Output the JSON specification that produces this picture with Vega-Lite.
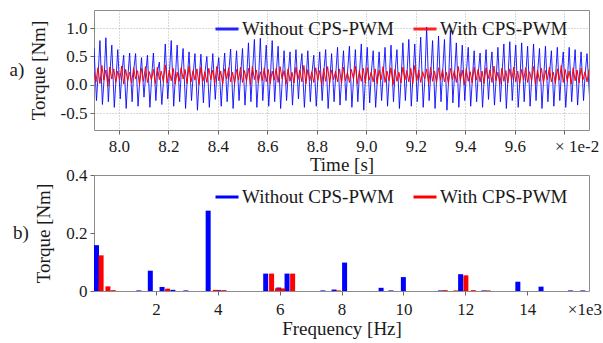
{
"$schema":"https://vega.github.io/schema/vega-lite/v6.json",
"padding":{"left":9,"top":9,"right":0,"bottom":0},
"spacing":45,
"bounds":"flush",
"resolve":{"legend":{"color":"independent"}},
"config":{
"font":"Liberation Serif",
"view":{"stroke":"#8c8c8c","strokeWidth":1},
"axis":{"labelFont":"Liberation Serif","titleFont":"Liberation Serif","labelFontSize":17,"titleFontSize":19,"titleFontWeight":"normal","labelColor":"#1a1a1a","titleColor":"#1a1a1a","domain":false,"tickColor":"#666","tickSize":4,"labelPadding":3,"labelOverlap":false,"labelBound":false,"gridColor":"#b0b0b0","gridDash":[1,2],"gridWidth":1},
"legend":{"orient":"none","direction":"horizontal","labelFont":"Liberation Serif","labelFontSize":19,"labelColor":"#1a1a1a","symbolType":"stroke","symbolStrokeWidth":3,"symbolSize":529,"columnPadding":13,"labelOffset":2,"padding":0,"title":null},
"title":{"font":"Liberation Serif","fontWeight":"normal","fontSize":19,"color":"#1a1a1a"}
},
"datasets":{
"blue":[
{"t":7.900,"v":0.65},{"t":7.910,"v":-0.28},{"t":7.917,"v":0.20},
{"t":7.924,"v":0.78},{"t":7.934,"v":-0.35},{"t":7.941,"v":0.12},
{"t":7.948,"v":0.83},{"t":7.958,"v":-0.30},{"t":7.965,"v":0.25},
{"t":7.972,"v":0.70},{"t":7.982,"v":-0.40},{"t":7.989,"v":0.10},
{"t":7.996,"v":0.62},{"t":8.006,"v":-0.25},{"t":8.013,"v":0.22},
{"t":8.020,"v":0.52},{"t":8.030,"v":-0.42},{"t":8.037,"v":0.15},
{"t":8.044,"v":0.56},{"t":8.054,"v":-0.30},{"t":8.061,"v":0.28},
{"t":8.068,"v":0.55},{"t":8.078,"v":-0.38},{"t":8.085,"v":0.10},
{"t":8.092,"v":0.48},{"t":8.102,"v":-0.22},{"t":8.109,"v":0.20},
{"t":8.116,"v":0.52},{"t":8.126,"v":-0.40},{"t":8.133,"v":0.14},
{"t":8.140,"v":0.56},{"t":8.150,"v":-0.28},{"t":8.157,"v":0.25},
{"t":8.164,"v":0.40},{"t":8.174,"v":-0.35},{"t":8.181,"v":0.08},
{"t":8.188,"v":0.72},{"t":8.198,"v":-0.25},{"t":8.205,"v":0.22},
{"t":8.212,"v":0.78},{"t":8.222,"v":-0.38},{"t":8.229,"v":0.15},
{"t":8.236,"v":0.70},{"t":8.246,"v":-0.30},{"t":8.253,"v":0.26},
{"t":8.260,"v":0.64},{"t":8.270,"v":-0.42},{"t":8.277,"v":0.12},
{"t":8.284,"v":0.58},{"t":8.294,"v":-0.28},{"t":8.301,"v":0.20},
{"t":8.308,"v":0.55},{"t":8.318,"v":-0.45},{"t":8.325,"v":0.10},
{"t":8.332,"v":0.54},{"t":8.342,"v":-0.32},{"t":8.349,"v":0.24},
{"t":8.356,"v":0.50},{"t":8.366,"v":-0.40},{"t":8.373,"v":0.12},
{"t":8.380,"v":0.55},{"t":8.390,"v":-0.26},{"t":8.397,"v":0.22},
{"t":8.404,"v":0.48},{"t":8.414,"v":-0.38},{"t":8.421,"v":0.15},
{"t":8.428,"v":0.56},{"t":8.438,"v":-0.30},{"t":8.445,"v":0.25},
{"t":8.452,"v":0.63},{"t":8.462,"v":-0.42},{"t":8.469,"v":0.10},
{"t":8.476,"v":0.60},{"t":8.486,"v":-0.28},{"t":8.493,"v":0.20},
{"t":8.500,"v":0.64},{"t":8.510,"v":-0.36},{"t":8.517,"v":0.14},
{"t":8.524,"v":0.74},{"t":8.534,"v":-0.30},{"t":8.541,"v":0.26},
{"t":8.548,"v":0.80},{"t":8.558,"v":-0.40},{"t":8.565,"v":0.12},
{"t":8.572,"v":0.82},{"t":8.582,"v":-0.28},{"t":8.589,"v":0.22},
{"t":8.596,"v":0.70},{"t":8.606,"v":-0.38},{"t":8.613,"v":0.15},
{"t":8.620,"v":0.78},{"t":8.630,"v":-0.30},{"t":8.637,"v":0.24},
{"t":8.644,"v":0.68},{"t":8.654,"v":-0.42},{"t":8.661,"v":0.10},
{"t":8.668,"v":0.60},{"t":8.678,"v":-0.28},{"t":8.685,"v":0.20},
{"t":8.692,"v":0.58},{"t":8.702,"v":-0.36},{"t":8.709,"v":0.14},
{"t":8.716,"v":0.62},{"t":8.726,"v":-0.25},{"t":8.733,"v":0.25},
{"t":8.740,"v":0.55},{"t":8.750,"v":-0.40},{"t":8.757,"v":0.12},
{"t":8.764,"v":0.60},{"t":8.774,"v":-0.30},{"t":8.781,"v":0.22},
{"t":8.788,"v":0.52},{"t":8.798,"v":-0.38},{"t":8.805,"v":0.15},
{"t":8.812,"v":0.58},{"t":8.822,"v":-0.28},{"t":8.829,"v":0.25},
{"t":8.836,"v":0.62},{"t":8.846,"v":-0.42},{"t":8.853,"v":0.10},
{"t":8.860,"v":0.55},{"t":8.870,"v":-0.30},{"t":8.877,"v":0.20},
{"t":8.884,"v":0.66},{"t":8.894,"v":-0.36},{"t":8.901,"v":0.14},
{"t":8.908,"v":0.60},{"t":8.918,"v":-0.28},{"t":8.925,"v":0.26},
{"t":8.932,"v":0.68},{"t":8.942,"v":-0.40},{"t":8.949,"v":0.12},
{"t":8.956,"v":0.62},{"t":8.966,"v":-0.30},{"t":8.973,"v":0.22},
{"t":8.980,"v":0.72},{"t":8.990,"v":-0.45},{"t":8.997,"v":0.15},
{"t":9.004,"v":0.66},{"t":9.014,"v":-0.32},{"t":9.021,"v":0.24},
{"t":9.028,"v":0.60},{"t":9.038,"v":-0.40},{"t":9.045,"v":0.10},
{"t":9.052,"v":0.58},{"t":9.062,"v":-0.28},{"t":9.069,"v":0.20},
{"t":9.076,"v":0.66},{"t":9.086,"v":-0.38},{"t":9.093,"v":0.14},
{"t":9.100,"v":0.70},{"t":9.110,"v":-0.30},{"t":9.117,"v":0.25},
{"t":9.124,"v":0.62},{"t":9.134,"v":-0.42},{"t":9.141,"v":0.12},
{"t":9.148,"v":0.74},{"t":9.158,"v":-0.28},{"t":9.165,"v":0.22},
{"t":9.172,"v":0.80},{"t":9.182,"v":-0.38},{"t":9.189,"v":0.15},
{"t":9.196,"v":0.72},{"t":9.206,"v":-0.30},{"t":9.213,"v":0.26},
{"t":9.220,"v":0.84},{"t":9.230,"v":-0.40},{"t":9.237,"v":0.12},
{"t":9.244,"v":1.02},{"t":9.254,"v":-0.28},{"t":9.261,"v":0.22},
{"t":9.268,"v":0.78},{"t":9.278,"v":-0.42},{"t":9.285,"v":0.15},
{"t":9.292,"v":0.86},{"t":9.302,"v":-0.30},{"t":9.309,"v":0.24},
{"t":9.316,"v":0.80},{"t":9.326,"v":-0.45},{"t":9.333,"v":0.10},
{"t":9.340,"v":0.96},{"t":9.350,"v":-0.32},{"t":9.357,"v":0.20},
{"t":9.364,"v":0.74},{"t":9.374,"v":-0.40},{"t":9.381,"v":0.14},
{"t":9.388,"v":0.70},{"t":9.398,"v":-0.28},{"t":9.405,"v":0.25},
{"t":9.412,"v":0.66},{"t":9.422,"v":-0.38},{"t":9.429,"v":0.12},
{"t":9.436,"v":0.60},{"t":9.446,"v":-0.30},{"t":9.453,"v":0.22},
{"t":9.460,"v":0.56},{"t":9.470,"v":-0.40},{"t":9.477,"v":0.15},
{"t":9.484,"v":0.62},{"t":9.494,"v":-0.26},{"t":9.501,"v":0.26},
{"t":9.508,"v":0.58},{"t":9.518,"v":-0.36},{"t":9.525,"v":0.12},
{"t":9.532,"v":0.66},{"t":9.542,"v":-0.30},{"t":9.549,"v":0.22},
{"t":9.556,"v":0.72},{"t":9.566,"v":-0.42},{"t":9.573,"v":0.15},
{"t":9.580,"v":0.76},{"t":9.590,"v":-0.28},{"t":9.597,"v":0.24},
{"t":9.604,"v":0.70},{"t":9.614,"v":-0.40},{"t":9.621,"v":0.10},
{"t":9.628,"v":0.74},{"t":9.638,"v":-0.30},{"t":9.645,"v":0.20},
{"t":9.652,"v":0.68},{"t":9.662,"v":-0.38},{"t":9.669,"v":0.14},
{"t":9.676,"v":0.72},{"t":9.686,"v":-0.28},{"t":9.693,"v":0.25},
{"t":9.700,"v":0.64},{"t":9.710,"v":-0.42},{"t":9.717,"v":0.12},
{"t":9.724,"v":0.68},{"t":9.734,"v":-0.30},{"t":9.741,"v":0.22},
{"t":9.748,"v":0.60},{"t":9.758,"v":-0.38},{"t":9.765,"v":0.15},
{"t":9.772,"v":0.66},{"t":9.782,"v":-0.28},{"t":9.789,"v":0.24},
{"t":9.796,"v":0.58},{"t":9.806,"v":-0.40},{"t":9.813,"v":0.10},
{"t":9.820,"v":0.66},{"t":9.830,"v":-0.30},{"t":9.837,"v":0.20},
{"t":9.844,"v":0.62},{"t":9.854,"v":-0.36},{"t":9.861,"v":0.14},
{"t":9.868,"v":0.58},{"t":9.878,"v":-0.28},{"t":9.885,"v":0.22},
{"t":9.892,"v":0.55},{"t":9.902,"v":-0.20}
],
"red":[
{"t":7.900,"v":0.22},{"t":7.908,"v":0.05},{"t":7.916,"v":0.30},{"t":7.924,"v":0.02},{"t":7.932,"v":0.34},{"t":7.940,"v":0.08},{"t":7.948,"v":0.26},{"t":7.956,"v":-0.03},{"t":7.964,"v":0.31},{"t":7.972,"v":0.10},
{"t":7.980,"v":0.28},{"t":7.988,"v":0.04},{"t":7.996,"v":0.24},{"t":8.004,"v":0.09},{"t":8.012,"v":0.33},{"t":8.020,"v":0.01},{"t":8.028,"v":0.27},{"t":8.036,"v":0.07},{"t":8.044,"v":0.22},{"t":8.052,"v":0.03},
{"t":8.060,"v":0.30},{"t":8.068,"v":0.10},{"t":8.076,"v":0.25},{"t":8.084,"v":0.00},{"t":8.092,"v":0.29},{"t":8.100,"v":0.06},{"t":8.108,"v":0.32},{"t":8.116,"v":0.04},{"t":8.124,"v":0.23},{"t":8.132,"v":0.08},
{"t":8.140,"v":0.27},{"t":8.148,"v":0.02},{"t":8.156,"v":0.31},{"t":8.164,"v":0.09},{"t":8.172,"v":0.24},{"t":8.180,"v":0.05},{"t":8.188,"v":0.35},{"t":8.196,"v":0.03},{"t":8.204,"v":0.26},{"t":8.212,"v":0.07},
{"t":8.220,"v":0.29},{"t":8.228,"v":0.01},{"t":8.236,"v":0.22},{"t":8.244,"v":0.06},{"t":8.252,"v":0.30},{"t":8.260,"v":0.10},{"t":8.268,"v":0.27},{"t":8.276,"v":0.02},{"t":8.284,"v":0.33},{"t":8.292,"v":0.05},
{"t":8.300,"v":0.25},{"t":8.308,"v":0.08},{"t":8.316,"v":0.28},{"t":8.324,"v":0.00},{"t":8.332,"v":0.31},{"t":8.340,"v":0.06},{"t":8.348,"v":0.23},{"t":8.356,"v":0.04},{"t":8.364,"v":0.29},{"t":8.372,"v":0.09},
{"t":8.380,"v":0.26},{"t":8.388,"v":0.03},{"t":8.396,"v":0.32},{"t":8.404,"v":0.07},{"t":8.412,"v":0.24},{"t":8.420,"v":0.01},{"t":8.428,"v":0.28},{"t":8.436,"v":0.10},{"t":8.444,"v":0.30},{"t":8.452,"v":0.05},
{"t":8.460,"v":0.22},{"t":8.468,"v":0.02},{"t":8.476,"v":0.27},{"t":8.484,"v":0.08},{"t":8.492,"v":0.31},{"t":8.500,"v":0.04},{"t":8.508,"v":0.25},{"t":8.516,"v":0.06},{"t":8.524,"v":0.29},{"t":8.532,"v":0.00},
{"t":8.540,"v":0.33},{"t":8.548,"v":0.09},{"t":8.556,"v":0.26},{"t":8.564,"v":0.03},{"t":8.572,"v":0.23},{"t":8.580,"v":0.07},{"t":8.588,"v":0.30},{"t":8.596,"v":0.05},{"t":8.604,"v":0.27},{"t":8.612,"v":0.02},
{"t":8.620,"v":0.24},{"t":8.628,"v":0.08},{"t":8.636,"v":0.29},{"t":8.644,"v":0.04},{"t":8.652,"v":0.32},{"t":8.660,"v":0.10},{"t":8.668,"v":0.25},{"t":8.676,"v":0.01},{"t":8.684,"v":0.28},{"t":8.692,"v":0.06},
{"t":8.700,"v":0.22},{"t":8.708,"v":0.03},{"t":8.716,"v":0.31},{"t":8.724,"v":0.09},{"t":8.732,"v":0.26},{"t":8.740,"v":0.05},{"t":8.748,"v":0.34},{"t":8.756,"v":0.02},{"t":8.764,"v":0.27},{"t":8.772,"v":0.07},
{"t":8.780,"v":0.23},{"t":8.788,"v":0.04},{"t":8.796,"v":0.30},{"t":8.804,"v":0.08},{"t":8.812,"v":0.25},{"t":8.820,"v":0.00},{"t":8.828,"v":0.29},{"t":8.836,"v":0.06},{"t":8.844,"v":0.32},{"t":8.852,"v":0.03},
{"t":8.860,"v":0.26},{"t":8.868,"v":0.09},{"t":8.876,"v":0.24},{"t":8.884,"v":0.05},{"t":8.892,"v":0.28},{"t":8.900,"v":0.02},{"t":8.908,"v":0.31},{"t":8.916,"v":0.07},{"t":8.924,"v":0.22},{"t":8.932,"v":0.04},
{"t":8.940,"v":0.27},{"t":8.948,"v":0.10},{"t":8.956,"v":0.33},{"t":8.964,"v":0.01},{"t":8.972,"v":0.25},{"t":8.980,"v":0.06},{"t":8.988,"v":0.29},{"t":8.996,"v":0.03},{"t":9.004,"v":0.30},{"t":9.012,"v":0.08},
{"t":9.020,"v":0.23},{"t":9.028,"v":0.05},{"t":9.036,"v":0.28},{"t":9.044,"v":0.02},{"t":9.052,"v":0.26},{"t":9.060,"v":0.09},{"t":9.068,"v":0.32},{"t":9.076,"v":0.04},{"t":9.084,"v":0.24},{"t":9.092,"v":0.07},
{"t":9.100,"v":0.30},{"t":9.108,"v":0.00},{"t":9.116,"v":0.27},{"t":9.124,"v":0.06},{"t":9.132,"v":0.22},{"t":9.140,"v":0.03},{"t":9.148,"v":0.31},{"t":9.156,"v":0.08},{"t":9.164,"v":0.25},{"t":9.172,"v":0.05},
{"t":9.180,"v":0.29},{"t":9.188,"v":0.02},{"t":9.196,"v":0.34},{"t":9.204,"v":0.07},{"t":9.212,"v":0.26},{"t":9.220,"v":0.04},{"t":9.228,"v":0.23},{"t":9.236,"v":0.10},{"t":9.244,"v":0.28},{"t":9.252,"v":0.01},
{"t":9.260,"v":0.31},{"t":9.268,"v":0.06},{"t":9.276,"v":0.24},{"t":9.284,"v":0.03},{"t":9.292,"v":0.30},{"t":9.300,"v":0.08},{"t":9.308,"v":0.27},{"t":9.316,"v":0.05},{"t":9.324,"v":0.22},{"t":9.332,"v":0.02},
{"t":9.340,"v":0.29},{"t":9.348,"v":0.09},{"t":9.356,"v":0.25},{"t":9.364,"v":0.04},{"t":9.372,"v":0.32},{"t":9.380,"v":0.07},{"t":9.388,"v":0.26},{"t":9.396,"v":0.00},{"t":9.404,"v":0.28},{"t":9.412,"v":0.06},
{"t":9.420,"v":0.23},{"t":9.428,"v":0.03},{"t":9.436,"v":0.31},{"t":9.444,"v":0.08},{"t":9.452,"v":0.27},{"t":9.460,"v":0.05},{"t":9.468,"v":0.24},{"t":9.476,"v":0.02},{"t":9.484,"v":0.30},{"t":9.492,"v":0.10},
{"t":9.500,"v":0.26},{"t":9.508,"v":0.04},{"t":9.516,"v":0.33},{"t":9.524,"v":0.07},{"t":9.532,"v":0.22},{"t":9.540,"v":0.01},{"t":9.548,"v":0.29},{"t":9.556,"v":0.06},{"t":9.564,"v":0.25},{"t":9.572,"v":0.03},
{"t":9.580,"v":0.28},{"t":9.588,"v":0.09},{"t":9.596,"v":0.31},{"t":9.604,"v":0.05},{"t":9.612,"v":0.24},{"t":9.620,"v":0.02},{"t":9.628,"v":0.27},{"t":9.636,"v":0.08},{"t":9.644,"v":0.30},{"t":9.652,"v":0.04},
{"t":9.660,"v":0.23},{"t":9.668,"v":0.07},{"t":9.676,"v":0.32},{"t":9.684,"v":0.00},{"t":9.692,"v":0.26},{"t":9.700,"v":0.06},{"t":9.708,"v":0.29},{"t":9.716,"v":0.03},{"t":9.724,"v":0.25},{"t":9.732,"v":0.09},
{"t":9.740,"v":0.31},{"t":9.748,"v":0.05},{"t":9.756,"v":0.22},{"t":9.764,"v":0.02},{"t":9.772,"v":0.28},{"t":9.780,"v":0.08},{"t":9.788,"v":0.34},{"t":9.796,"v":0.04},{"t":9.804,"v":0.27},{"t":9.812,"v":0.06},
{"t":9.820,"v":0.24},{"t":9.828,"v":0.01},{"t":9.836,"v":0.30},{"t":9.844,"v":0.07},{"t":9.852,"v":0.26},{"t":9.860,"v":0.03},{"t":9.868,"v":0.29},{"t":9.876,"v":0.09},{"t":9.884,"v":0.23},{"t":9.892,"v":0.05},
{"t":9.900,"v":0.27}
],
"spec":[
{"f":0.08,"v":0.158,"s":"Without CPS-PWM"},{"f":1.45,"v":0.002,"s":"Without CPS-PWM"},{"f":1.82,"v":0.07,"s":"Without CPS-PWM"},{"f":2.2,"v":0.014,"s":"Without CPS-PWM"},{"f":2.55,"v":0.004,"s":"Without CPS-PWM"},{"f":2.97,"v":0.002,"s":"Without CPS-PWM"},{"f":3.69,"v":0.277,"s":"Without CPS-PWM"},{"f":4.03,"v":0.003,"s":"Without CPS-PWM"},{"f":5.55,"v":0.06,"s":"Without CPS-PWM"},{"f":5.97,"v":0.012,"s":"Without CPS-PWM"},{"f":6.24,"v":0.06,"s":"Without CPS-PWM"},{"f":7.4,"v":0.002,"s":"Without CPS-PWM"},{"f":7.76,"v":0.005,"s":"Without CPS-PWM"},{"f":8.1,"v":0.098,"s":"Without CPS-PWM"},{"f":9.28,"v":0.011,"s":"Without CPS-PWM"},{"f":9.6,"v":0.002,"s":"Without CPS-PWM"},{"f":10.0,"v":0.048,"s":"Without CPS-PWM"},{"f":11.2,"v":0.002,"s":"Without CPS-PWM"},{"f":11.85,"v":0.058,"s":"Without CPS-PWM"},{"f":12.6,"v":0.002,"s":"Without CPS-PWM"},{"f":13.7,"v":0.032,"s":"Without CPS-PWM"},{"f":14.45,"v":0.015,"s":"Without CPS-PWM"},{"f":15.4,"v":0.002,"s":"Without CPS-PWM"},{"f":15.8,"v":0.002,"s":"Without CPS-PWM"},
{"f":0.23,"v":0.123,"s":"With CPS-PWM"},{"f":0.45,"v":0.016,"s":"With CPS-PWM"},{"f":0.62,"v":0.003,"s":"With CPS-PWM"},{"f":2.38,"v":0.008,"s":"With CPS-PWM"},{"f":3.92,"v":0.004,"s":"With CPS-PWM"},{"f":4.2,"v":0.003,"s":"With CPS-PWM"},{"f":5.74,"v":0.06,"s":"With CPS-PWM"},{"f":5.93,"v":0.009,"s":"With CPS-PWM"},{"f":6.1,"v":0.009,"s":"With CPS-PWM"},{"f":6.42,"v":0.06,"s":"With CPS-PWM"},{"f":7.9,"v":0.002,"s":"With CPS-PWM"},{"f":11.35,"v":0.003,"s":"With CPS-PWM"},{"f":11.7,"v":0.002,"s":"With CPS-PWM"},{"f":12.02,"v":0.054,"s":"With CPS-PWM"},{"f":12.26,"v":0.003,"s":"With CPS-PWM"},{"f":12.74,"v":0.002,"s":"With CPS-PWM"}
]
},
"vconcat":[
{
"width":495,"height":120,
"title":{"text":"a)","orient":"left","angle":0,"anchor":"middle","align":"right","baseline":"middle","offset":-10},
"encoding":{
"x":{"field":"t","type":"quantitative","scale":{"domain":[7.9,9.9],"nice":false,"zero":false},
"axis":{"values":[8.0,8.2,8.4,8.6,8.8,9.0,9.2,9.4,9.6,9.8,9.85],"labelExpr":"datum.value > 9.82 ? '× 1e-2' : (datum.value > 9.7 ? '' : format(datum.value, '.1f'))","labelOverlap":false,"labelFlush":false,"grid":true,"gridOpacity":{"condition":{"test":"datum.value > 9.82","value":0},"value":1},"tickOpacity":{"condition":{"test":"datum.value > 9.82","value":0},"value":1},"labelPadding":4,"title":"Time [s]","titlePadding":1}},
"y":{"field":"v","type":"quantitative","scale":{"domain":[-0.8,1.32],"nice":false,"zero":false},
"axis":{"values":[-0.5,0,0.5,1],"format":".1f","labelExpr":"replace(datum.label, '−', '-')","labelOverlap":false,"labelFlush":false,"labelBound":false,"grid":true,"title":"Torque [Nm]","titlePadding":12}}
},
"layer":[
{"data":{"name":"blue"},"mark":{"type":"line","strokeWidth":1,"clip":true,"opacity":0.85},
"encoding":{
"color":{"datum":"Without CPS-PWM","type":"nominal","scale":{"domain":["Without CPS-PWM","With CPS-PWM"],"range":["#0000ff","#ff0000"]},"legend":{"legendX":120,"legendY":6}}
}},
{"data":{"name":"red"},"mark":{"type":"line","strokeWidth":1,"clip":true},
"encoding":{
"color":{"datum":"With CPS-PWM","type":"nominal"}
}}
]
},
{
"width":495,"height":116,
"title":{"text":"b)","orient":"left","angle":0,"anchor":"middle","align":"right","baseline":"middle","offset":-10},
"data":{"name":"spec"},
"mark":{"type":"rule","strokeWidth":5,"clip":true},
"encoding":{
"x":{"field":"f","type":"quantitative","scale":{"domain":[0,16],"nice":false,"zero":false},
"axis":{"values":[2,4,6,8,10,12,14,15.85],"labelExpr":"datum.value > 15 ? '×1e3' : format(datum.value, 'd')","labelOverlap":false,"labelFlush":false,"grid":false,"tickOpacity":{"condition":{"test":"datum.value > 15","value":0},"value":1},"labelPadding":6,"title":"Frequency [Hz]","titlePadding":2}},
"y":{"field":"v","type":"quantitative","scale":{"domain":[0,0.4],"nice":false},
"axis":{"values":[0,0.2,0.4],"labelExpr":"datum.value == 0 ? '0' : format(datum.value, '.1f')","labelOverlap":false,"labelFlush":false,"grid":false,"title":"Torque [Nm]","titlePadding":12}},
"y2":{"datum":0},
"color":{"field":"s","type":"nominal","scale":{"domain":["Without CPS-PWM","With CPS-PWM"],"range":["#0000ff","#ff0000"]},"legend":{"legendX":120,"legendY":9}}
}
}
]
}
